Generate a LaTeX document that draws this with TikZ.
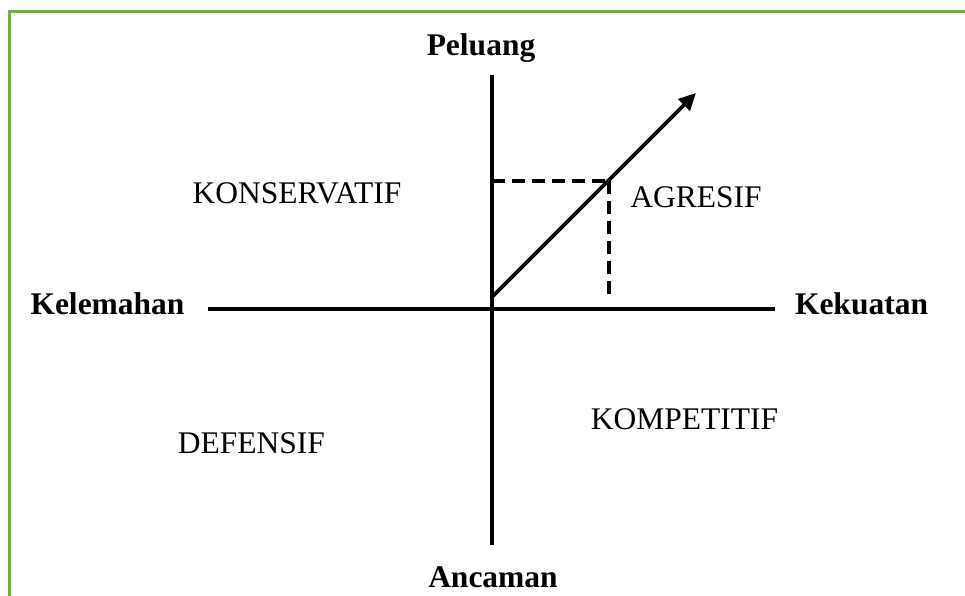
\documentclass[tikz,border=0pt]{standalone}
\usepackage{fontspec}
\setmainfont{Liberation Serif}
\usetikzlibrary{arrows.meta}
\definecolor{framegreen}{RGB}{112,173,71}
\begin{document}
\begin{tikzpicture}[x=1pt,y=-1pt,
  axisline/.style={line width=3.6pt},
  dashline/.style={line width=3.6pt, dash pattern=on 13pt off 7pt},
  framestyle/.style={draw=framegreen, line width=3pt},
  lbl/.style={font=\fontsize{31.5}{36}\selectfont, anchor=base, inner sep=0pt},
  axlbl/.style={font=\fontsize{31.5}{36}\selectfont\bfseries, anchor=base, inner sep=0pt}]
\useasboundingbox (0,0) rectangle (965,596);
% frame (only top and left edges visible)
\draw[framestyle] (9,596) -- (9,12) -- (965,12);
% coordinates
\coordinate (vt) at (492,75);
\coordinate (vb) at (492,545);
\coordinate (hl) at (208,309);
\coordinate (hr) at (775,309);
\coordinate (o) at (492,297);
\coordinate (tip) at (696,93);
\coordinate (p) at (609,181);
\coordinate (pl) at (492,181);
\coordinate (pb) at (609,298);
% axes
\draw[axisline] (vt) -- (vb);
\draw[axisline] (hl) -- (hr);
% dashed projections
\draw[dashline] (pl) -- (p);
\draw[dashline] (p) -- (pb);
% arrow
\draw[axisline, -{Triangle[length=17pt,width=16pt]}] (o) -- (tip);
% axis labels
\node[axlbl] (peluang) at (481,56) {Peluang};
\node[axlbl] (ancaman) at (493,587) {Ancaman};
\node[axlbl] (kelemahan) at (107.5,314) {Kelemahan};
\node[axlbl] (kekuatan) at (861.5,314) {Kekuatan};
% quadrant labels
\node[lbl] (konservatif) at (297,203) {KONSERVATIF};
\node[lbl] (agresif) at (696,207) {AGRESIF};
\node[lbl] (defensif) at (251.5,453) {DEFENSIF};
\node[lbl] (kompetitif) at (684.5,429) {KOMPETITIF};
\end{tikzpicture}
\end{document}
